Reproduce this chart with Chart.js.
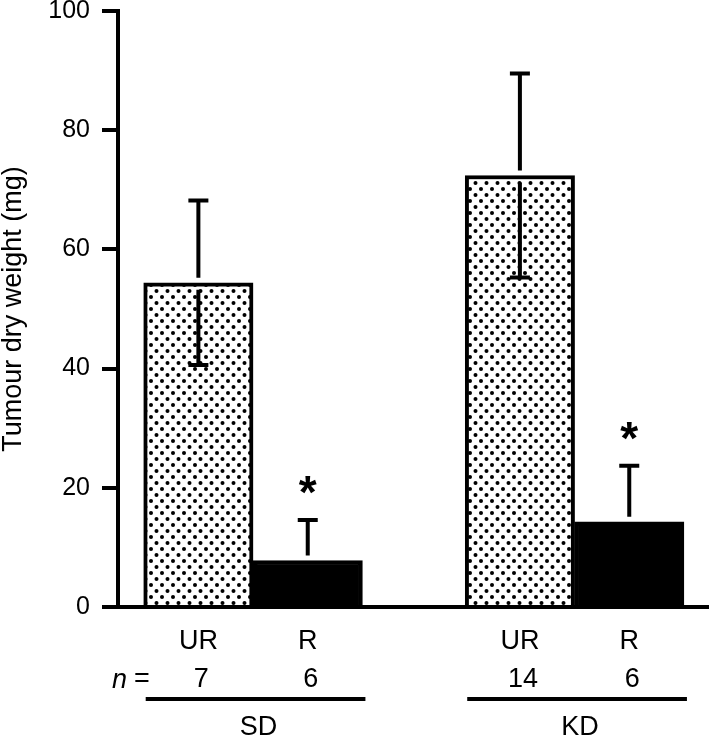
<!DOCTYPE html>
<html>
<head>
<meta charset="utf-8">
<script src="https://cdn.jsdelivr.net/npm/chart.js@4.4.0/dist/chart.umd.min.js"></script>
<style>
  body { margin: 0; background: #fff; }
</style>
</head>
<body>
<canvas id="chart" width="712" height="743"></canvas>
<script>
// data
const barLabels = ['UR', 'R', 'UR', 'R'];
const groupNames = ['SD', 'KD'];
const groupOf = [0, 0, 1, 1];
const meanWeight = [54.4, 7.8, 72.4, 14.3];
const errWeight = [13.8, 6.8, 17.1, 9.4];
const nCounts = [7, 6, 14, 6];
const starred = [false, true, false, true];
const yTicks = [0, 20, 40, 60, 80, 100];

const FONT = '"Liberation Sans", Arial, Helvetica, sans-serif';
const GROUP_STEP = 2.94; // spacing between the two groups, in bar widths
const LABEL_SIZE = 27;

// bar centres on a linear x scale: one unit = one bar width
const xPos = barLabels.map((l, i) => groupOf[i] * GROUP_STEP + (i - groupOf[i] * 2));

const canvas = document.getElementById('chart');
const ctx0 = canvas.getContext('2d');

// stipple fill for the UR bars
const tile = document.createElement('canvas');
tile.width = 11;
tile.height = 12;
const tctx = tile.getContext('2d');
tctx.fillStyle = '#fff';
tctx.fillRect(0, 0, 11, 12);
tctx.fillStyle = '#000';
[[2.5, 3], [8, 9]].forEach(([px, py]) => {
  tctx.beginPath();
  tctx.arc(px, py, 2, 0, Math.PI * 2);
  tctx.fill();
});
const dots = ctx0.createPattern(tile, 'repeat');

Chart.defaults.font.family = FONT;
Chart.defaults.color = '#000';

const extras = {
  id: 'extras',
  afterDatasetsDraw(chart) {
    const ctx = chart.ctx;
    const y = chart.scales.y;
    const bars = chart.getDatasetMeta(0).data;
    ctx.save();
    ctx.strokeStyle = '#000';
    ctx.fillStyle = '#000';
    ctx.lineWidth = 4;
    bars.forEach((bar, i) => {
      const top = y.getPixelForValue(meanWeight[i] + errWeight[i]);
      const bot = y.getPixelForValue(meanWeight[i] - errWeight[i]);
      ctx.beginPath();
      ctx.moveTo(bar.x, top);
      ctx.lineTo(bar.x, bar.y - 5);
      ctx.moveTo(bar.x, bar.y + 7);
      ctx.lineTo(bar.x, bot);
      ctx.moveTo(bar.x - 10, top);
      ctx.lineTo(bar.x + 10, top);
      ctx.moveTo(bar.x - 10, bot);
      ctx.lineTo(bar.x + 10, bot);
      ctx.stroke();
      if (starred[i]) {
        ctx.font = 'bold 46px ' + FONT;
        ctx.textAlign = 'center';
        ctx.textBaseline = 'alphabetic';
        ctx.fillText('*', bar.x, top - 12);
      }
    });
    ctx.restore();
  },
  afterDraw(chart) {
    const ctx = chart.ctx;
    const bars = chart.getDatasetMeta(0).data;
    ctx.save();
    ctx.fillStyle = '#000';
    ctx.strokeStyle = '#000';
    ctx.textBaseline = 'middle';

    // n = row
    ctx.textAlign = 'left';
    ctx.font = 'italic ' + LABEL_SIZE + 'px ' + FONT;
    ctx.fillText('n', 112, 680);
    ctx.font = LABEL_SIZE + 'px ' + FONT;
    ctx.fillText('=', 134, 680);
    ctx.textAlign = 'center';
    bars.forEach((bar, i) => {
      ctx.fillText(String(nCounts[i]), bar.x + 3, 680);
    });

    // group underlines and names
    groupNames.forEach((name, g) => {
      const members = bars.filter((b, i) => groupOf[i] === g);
      const last = members[members.length - 1];
      const left = members[0].x - members[0].width / 2 + 2;
      const right = last.x + last.width / 2 + 3;
      ctx.lineWidth = 4;
      ctx.beginPath();
      ctx.moveTo(left, 699);
      ctx.lineTo(right, 699);
      ctx.stroke();
      ctx.fillText(name, (left + right) / 2 + 3, 728);
    });
    ctx.restore();
  }
};

new Chart(canvas, {
  type: 'bar',
  data: {
    datasets: [{
      data: xPos.map((x, i) => ({ x: x, y: meanWeight[i] })),
      backgroundColor: barLabels.map(l => (l === 'UR' ? dots : '#000')),
      borderColor: '#000',
      borderWidth: 4,
      barPercentage: 1,
      categoryPercentage: 1
    }]
  },
  options: {
    responsive: false,
    animation: false,
    layout: { padding: { top: 11, right: 4, left: 0, bottom: 0 } },
    plugins: {
      legend: { display: false },
      tooltip: { enabled: false }
    },
    scales: {
      x: {
        type: 'linear',
        min: -0.735,
        max: 4.66,
        offset: false,
        grid: { display: false, drawTicks: false, offset: false },
        border: { color: '#000', width: 4 },
        afterBuildTicks: (axis) => { axis.ticks = xPos.map(v => ({ value: v })); },
        afterFit: (axis) => { axis.height = 136; axis.paddingLeft = 0; axis.paddingRight = 0; },
        ticks: {
          autoSkip: false,
          maxRotation: 0,
          padding: 18,
          font: { size: LABEL_SIZE },
          callback: (v, i) => barLabels[i]
        }
      },
      y: {
        min: 0,
        max: 100,
        afterBuildTicks: (axis) => { axis.ticks = yTicks.map(v => ({ value: v })); },
        afterFit: (axis) => { axis.width = 118; axis.paddingTop = 0; axis.paddingBottom = 0; },
        grid: { drawOnChartArea: false, drawTicks: true, tickLength: 16, color: '#000', lineWidth: 4 },
        border: { color: '#000', width: 4 },
        ticks: { padding: 12, font: { size: 25 } },
        title: {
          display: true,
          text: 'Tumour dry weight (mg)',
          font: { size: 27, lineHeight: 1 },
          padding: 0
        }
      }
    }
  },
  plugins: [extras]
});
</script>
</body>
</html>
